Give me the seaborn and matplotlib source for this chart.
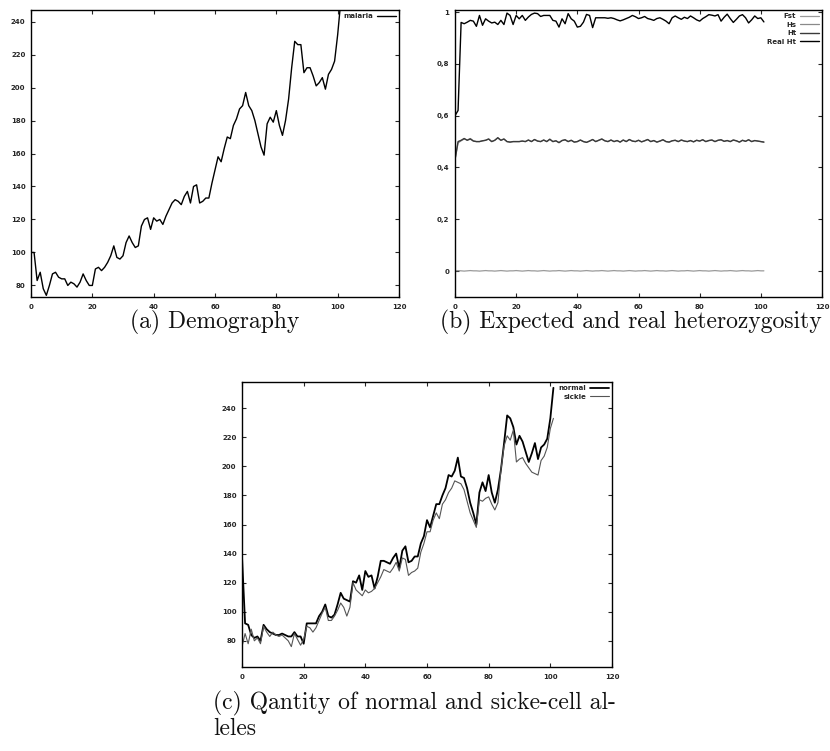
import numpy as np
import pandas as pd
import matplotlib
matplotlib.use("Agg")
import matplotlib.pyplot as plt
import seaborn as sns

# ---------------- data ----------------
x_ticks = [0, 20, 40, 60, 80, 100, 120]
x_ticklabels = ["0", "20", "40", "60", "80", "100", "120"]

# (a) Demography
malaria = [100, 100, 83, 88, 78, 74, 80, 87, 88, 85, 84, 84, 80, 82, 81, 79, 82, 87, 83, 80,
           80, 90, 91, 89, 91, 94, 98, 104, 97, 96, 98, 106, 110, 106, 103, 104, 116, 120, 121, 114,
           121, 119, 120, 117, 122, 126, 130, 132, 131, 129, 134, 137, 130, 140, 141, 130, 131, 133, 133, 142,
           150, 158, 155, 163, 170, 169, 177, 181, 187, 189, 197, 189, 186, 180, 172, 164, 159, 178, 182, 179,
           186, 177, 171, 180, 193, 212, 228, 226, 226, 209, 212, 212, 207, 201, 203, 206, 199, 208, 211, 216,
           232, 252]
a_yticks = [80, 100, 120, 140, 160, 180, 200, 220, 240]

# (b) Expected and real heterozygosity
fst = [0.001, 0.002, 0.001, 0.000, 0.001, 0.002, 0.001, 0.001, 0.000, 0.001, 0.002, 0.001, 0.001, 0.000, 0.001, 0.002, 0.001, 0.000, 0.001, 0.001,
       0.002, 0.001, 0.000, 0.001, 0.002, 0.001, 0.001, 0.000, 0.001, 0.002, 0.001, 0.000, 0.001, 0.001, 0.002, 0.001, 0.000, 0.001, 0.002, 0.001,
       0.001, 0.000, 0.001, 0.002, 0.001, 0.000, 0.001, 0.001, 0.002, 0.001, 0.000, 0.001, 0.002, 0.001, 0.001, 0.000, 0.001, 0.002, 0.001, 0.000,
       0.001, 0.001, 0.002, 0.001, 0.000, 0.001, 0.002, 0.001, 0.001, 0.000, 0.001, 0.002, 0.001, 0.000, 0.001, 0.001, 0.002, 0.001, 0.000, 0.001,
       0.002, 0.001, 0.001, 0.000, 0.001, 0.002, 0.001, 0.000, 0.001, 0.001, 0.002, 0.001, 0.000, 0.001, 0.002, 0.001, 0.001, 0.000, 0.001, 0.002,
       0.001, 0.001]
hs = [0.43, 0.495, 0.503, 0.510, 0.506, 0.512, 0.503, 0.500, 0.500, 0.503, 0.505, 0.510, 0.500, 0.505, 0.514, 0.505, 0.510, 0.500, 0.498, 0.500,
      0.500, 0.500, 0.502, 0.500, 0.506, 0.500, 0.508, 0.502, 0.500, 0.506, 0.500, 0.509, 0.500, 0.503, 0.496, 0.504, 0.507, 0.500, 0.505, 0.498,
      0.500, 0.506, 0.500, 0.497, 0.502, 0.508, 0.500, 0.505, 0.510, 0.503, 0.500, 0.506, 0.500, 0.504, 0.498, 0.506, 0.500, 0.508, 0.502, 0.500,
      0.505, 0.499, 0.503, 0.508, 0.500, 0.504, 0.498, 0.502, 0.507, 0.500, 0.498, 0.503, 0.505, 0.500, 0.506, 0.502, 0.500, 0.504, 0.499, 0.505,
      0.502, 0.507, 0.500, 0.504, 0.506, 0.500, 0.505, 0.507, 0.501, 0.504, 0.500, 0.506, 0.503, 0.498, 0.505, 0.501, 0.507, 0.500, 0.504, 0.502,
      0.500, 0.498]
ht = [0.43, 0.500, 0.505, 0.512, 0.505, 0.510, 0.502, 0.500, 0.500, 0.503, 0.505, 0.510, 0.500, 0.505, 0.515, 0.505, 0.510, 0.500, 0.498, 0.500,
      0.500, 0.500, 0.502, 0.500, 0.506, 0.500, 0.508, 0.502, 0.500, 0.506, 0.500, 0.509, 0.500, 0.503, 0.496, 0.504, 0.507, 0.500, 0.505, 0.498,
      0.500, 0.506, 0.500, 0.497, 0.502, 0.508, 0.500, 0.505, 0.510, 0.503, 0.500, 0.506, 0.500, 0.504, 0.498, 0.506, 0.500, 0.508, 0.502, 0.500,
      0.505, 0.499, 0.503, 0.508, 0.500, 0.504, 0.498, 0.502, 0.507, 0.500, 0.498, 0.503, 0.505, 0.500, 0.506, 0.502, 0.500, 0.504, 0.499, 0.505,
      0.502, 0.507, 0.500, 0.504, 0.506, 0.500, 0.505, 0.507, 0.501, 0.504, 0.500, 0.506, 0.503, 0.498, 0.505, 0.501, 0.507, 0.500, 0.504, 0.502,
      0.500, 0.498]
real_ht = [0.60, 0.62, 0.960, 0.955, 0.961, 0.968, 0.965, 0.945, 0.987, 0.949, 0.974, 0.965, 0.958, 0.961, 0.952, 0.968, 0.952, 0.996, 0.987, 0.952,
           0.987, 0.974, 0.987, 0.968, 0.981, 0.991, 0.996, 0.994, 0.983, 0.987, 0.987, 0.987, 0.968, 0.965, 0.942, 0.974, 0.955, 0.994, 0.974, 0.965,
           0.942, 0.945, 0.961, 0.991, 0.987, 0.940, 0.978, 0.978, 0.978, 0.978, 0.976, 0.978, 0.975, 0.970, 0.966, 0.970, 0.975, 0.980, 0.987, 0.982,
           0.975, 0.978, 0.983, 0.975, 0.972, 0.968, 0.975, 0.978, 0.972, 0.965, 0.955, 0.978, 0.985, 0.978, 0.972, 0.980, 0.975, 0.985, 0.978, 0.970,
           0.965, 0.975, 0.982, 0.990, 0.988, 0.985, 0.990, 0.965, 0.980, 0.992, 0.975, 0.960, 0.972, 0.985, 0.990, 0.978, 0.958, 0.970, 0.985, 0.975,
           0.978, 0.962]
b_yticks = [0, 0.2, 0.4, 0.6, 0.8, 1.0]
b_yticklabels = ["0", "0,2", "0,4", "0,6", "0,8", "1"]

# (c) Quantity of normal and sickle-cell alleles
normal = [138, 92, 91, 84, 82, 83, 80, 91, 88, 86, 85, 84, 84, 85, 84, 83, 83, 86, 83, 83,
          78, 92, 92, 92, 92, 97, 100, 105, 97, 96, 98, 105, 113, 109, 108, 107, 121, 120, 125, 115,
          128, 124, 125, 116, 124, 135, 135, 134, 133, 137, 140, 130, 142, 145, 134, 135, 138, 138, 147, 152,
          163, 158, 166, 174, 174, 180, 185, 194, 193, 197, 206, 193, 192, 185, 175, 168, 160, 182, 189, 183,
          194, 182, 175, 184, 198, 216, 235, 233, 227, 215, 221, 217, 210, 203, 209, 216, 205, 213, 215, 219,
          233, 254]
sickle = [76, 85, 78, 88, 80, 82, 78, 90, 86, 83, 86, 84, 83, 84, 82, 80, 76, 85, 81, 77,
          81, 90, 89, 86, 89, 94, 99, 103, 94, 94, 97, 101, 106, 103, 97, 103, 120, 115, 113, 111,
          115, 113, 114, 116, 120, 124, 129, 128, 127, 130, 134, 128, 137, 136, 125, 127, 128, 130, 141, 147,
          155, 155, 163, 168, 164, 174, 177, 182, 185, 190, 189, 188, 184, 176, 168, 163, 158, 177, 176, 178,
          179, 174, 170, 175, 198, 214, 221, 218, 225, 203, 205, 206, 202, 199, 196, 195, 194, 204, 207, 213,
          226, 233]
c_yticks = [80, 100, 120, 140, 160, 180, 200, 220, 240]

# ---------------- style ----------------
sns.set_style("ticks")
plt.rcParams.update({
    "font.family": ["DejaVu Sans"],
    "axes.linewidth": 1.0,
    "axes.edgecolor": "black",
    "xtick.direction": "in",
    "ytick.direction": "in",
    "xtick.top": True,
    "ytick.right": True,
    "xtick.major.size": 3,
    "ytick.major.size": 3,
    "xtick.major.width": 0.8,
    "ytick.major.width": 0.8,
    "xtick.labelsize": 5,
    "ytick.labelsize": 5,
    "xtick.major.pad": 5,
    "ytick.major.pad": 4,
})

fig = plt.figure(figsize=(8.30, 7.51), dpi=100)
W, H = 830, 751

def add_axes(l, t, r, b):
    return fig.add_axes([l / W, 1 - b / H, (r - l) / W, (b - t) / H])

ax_a = add_axes(31, 10, 399, 297)
ax_b = add_axes(455, 10, 822, 297)
ax_c = add_axes(242, 382, 612, 667)

def style_axes(ax, yticks, yticklabels, ylim):
    ax.set_xlim(0, 120)
    ax.set_ylim(*ylim)
    ax.set_xticks(x_ticks, x_ticklabels, fontweight="bold")
    ax.set_yticks(yticks, yticklabels, fontweight="bold")
    ax.set_xlabel("")
    ax.set_ylabel("")
    for s in ax.spines.values():
        s.set_visible(True)
        s.set_color("black")

def legend(ax):
    ax.legend(loc="upper right", frameon=False, markerfirst=False,
              prop={"size": 5, "weight": "bold"}, handlelength=2.6,
              handletextpad=0.6, labelspacing=0.35, borderaxespad=0.3,
              borderpad=0.2)

# (a)
df_a = pd.DataFrame({"t": np.arange(len(malaria)), "v": malaria})
sns.lineplot(data=df_a, x="t", y="v", ax=ax_a, color="black", lw=1.0, label="malaria")
style_axes(ax_a, a_yticks, [str(v) for v in a_yticks], (73, 247))
legend(ax_a)

# (b)
for name, vals, col, lw, ls in [("Fst", fst, "#9a9a9a", 0.9, "-"),
                                 ("Hs", hs, "#8a8a8a", 0.9, "-"),
                                 ("Ht", ht, "#3a3a3a", 1.0, "-"),
                                 ("Real Ht", real_ht, "black", 1.0, "-")]:
    df = pd.DataFrame({"t": np.arange(len(vals)), "v": vals})
    sns.lineplot(data=df, x="t", y="v", ax=ax_b, color=col, lw=lw, ls=ls, label=name)
style_axes(ax_b, b_yticks, b_yticklabels, (-0.1, 1.008))
legend(ax_b)

# (c)
df_c1 = pd.DataFrame({"t": np.arange(len(normal)), "v": normal})
df_c2 = pd.DataFrame({"t": np.arange(len(sickle)), "v": sickle})
sns.lineplot(data=df_c1, x="t", y="v", ax=ax_c, color="black", lw=1.3, label="normal")
sns.lineplot(data=df_c2, x="t", y="v", ax=ax_c, color="#555555", lw=0.8, label="sickle")
style_axes(ax_c, c_yticks, [str(v) for v in c_yticks], (62, 258))
legend(ax_c)

# captions
cap_font = dict(family=["cmr10", "DejaVu Serif"], fontsize=17, color="#111111")
fig.text(215 / W, 1 - 322 / H, "(a) Demography", ha="center", va="center", **cap_font)
fig.text(631 / W, 1 - 322 / H, "(b) Expected and real heterozygosity", ha="center", va="center", **cap_font)
fig.text(213 / W, 1 - 703 / H, "(c) Qantity of normal and sicke-cell al-", ha="left", va="center", **cap_font)
fig.text(213 / W, 1 - 729 / H, "leles", ha="left", va="center", **cap_font)

fig.savefig("out.png", dpi=100)
